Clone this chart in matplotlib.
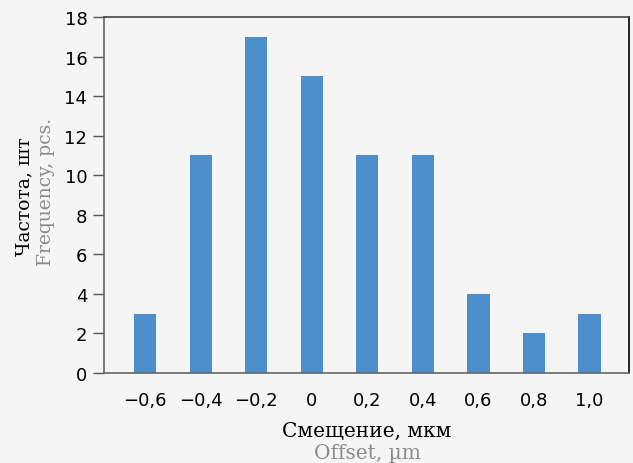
import matplotlib
matplotlib.use("Agg")
import matplotlib.pyplot as plt
import numpy as np

# offset values (µm) and how many parts fell in each bin
offsets = ["−0,6", "−0,4", "−0,2", "0", "0,2", "0,4", "0,6", "0,8", "1,0"]
counts = [3, 11, 17, 15, 11, 11, 4, 2, 3]
yticks = [0, 2, 4, 6, 8, 10, 12, 14, 16, 18]

BG = "#f5f5f5"
BAR = "#4d8fcd"
W, H = 633, 464

fig = plt.figure(figsize=(W / 100, H / 100), dpi=100, facecolor=BG)
ax = fig.add_axes([104 / W, 1 - 374 / H, (629 - 104) / W, (374 - 18) / H], facecolor=BG)

x = np.arange(len(offsets))
ax.bar(x, counts, width=0.4, color=BAR, zorder=2)
ax.set_xlim(-0.74, len(offsets) - 1 + 0.71)
ax.set_ylim(0, 18)
ax.set_yticks(yticks)
ax.set_xticks(x, offsets)

ax.tick_params(axis="x", length=0, pad=13, labelsize=13, colors="black")
ax.tick_params(axis="y", length=8, width=1, color="#555555", pad=4, labelsize=13)
for side, color in (("left", "#666666"), ("bottom", "#666666"), ("top", "#444444"), ("right", "black")):
    ax.spines[side].set_color(color)
    ax.spines[side].set_linewidth(1.2)

serif = "DejaVu Serif"
fig.text(367 / W, 1 - 431 / H, "Смещение, мкм", ha="center", va="center",
         fontsize=14.5, family=serif, color="black")
fig.text(368 / W, 1 - 454 / H, "Offset, µm", ha="center", va="center",
         fontsize=14.5, family=serif, color="#8a8a8a")
fig.text(24 / W, 1 - 197 / H, "Частота, шт", ha="center", va="center", rotation=90,
         fontsize=13.5, family=serif, color="black")
fig.text(46 / W, 1 - 192 / H, "Frequency, pcs.", ha="center", va="center", rotation=90,
         fontsize=13.5, family=serif, color="#8a8a8a")

fig.savefig("out.png", dpi=100, facecolor=BG)
